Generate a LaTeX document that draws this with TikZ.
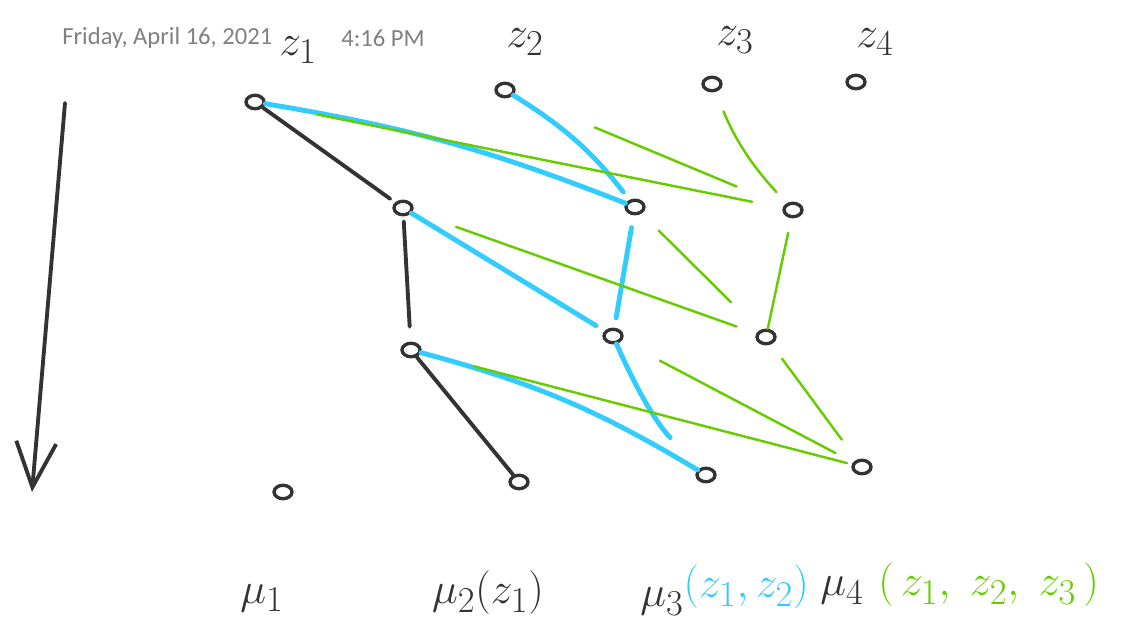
\documentclass[tikz,border=0pt]{standalone}
\usepackage{fontspec}
\newfontfamily\stampfont{Carlito}
\usetikzlibrary{shapes.geometric, arrows.meta}
\definecolor{inkblack}{HTML}{333333}
\definecolor{inkblue}{HTML}{33CCFF}
\definecolor{inkgreen}{HTML}{66CC00}
\definecolor{stampgray}{HTML}{808080}

\begin{document}
\begin{tikzpicture}[
    % one unit is one pixel of the sketch
    x=0.02cm, y=-0.02cm,
    dot/.style={ellipse, draw=inkblack, line width=1.9pt, minimum width=0.36cm, minimum height=0.27cm, inner sep=0pt},
    lbl/.style={text=inkblack, font=\fontsize{30}{34}\selectfont, inner sep=0pt},
    blk/.style={inkblack, line width=2.2pt, line cap=round},
    blu/.style={inkblue, line width=2.8pt, line cap=round},
    grn/.style={inkgreen, line width=1.4pt, line cap=round},
    stamp/.style={text=stampgray, font=\stampfont\fontsize{14}{17}\selectfont, anchor=west, inner sep=0pt}
]
    \useasboundingbox (0,0) rectangle (1126,624);

    % time stamp
    \node[stamp] (day) at (62,38) {Friday, April 16, 2021};
    \node[stamp] (time) at (341,38) {4:16 PM};

    % variables
    \node[lbl] (z1) at (298,50) {$z_1$};
    \node[lbl] (z2) at (525,42) {$z_2$};
    \node[lbl] (z3) at (735,40) {$z_3$};
    \node[lbl] (z4) at (875,42) {$z_4$};

    % rows of the sketch
    \node[dot] (a1) at (255,102) {};
    \node[dot] (a2) at (505,90) {};
    \node[dot] (a3) at (712,84) {};
    \node[dot] (a4) at (856,82) {};

    \node[dot] (b1) at (403,208) {};
    \node[dot] (b2) at (635,207) {};
    \node[dot] (b3) at (793,210) {};

    \node[dot] (c1) at (411,350) {};
    \node[dot] (c2) at (613,336) {};
    \node[dot] (c3) at (766,337) {};

    \node[dot] (d1) at (283,492) {};
    \node[dot] (d2) at (519,482) {};
    \node[dot] (d3) at (706,475) {};
    \node[dot] (d4) at (862,467) {};

    % means
    \node[lbl] (m1) at (262,598) {$\mu_1$};
    \node[lbl] (m2) at (488,593) {$\mu_2(z_1)$};
    \node[lbl, anchor=west] (m3) at (640,590) {$\mu_3$\raisebox{0.4ex}{\color{inkblue}$(z_1,z_2)$}};
    \node[lbl, anchor=west] (m4) at (820,585) {$\mu_4$\;{\color{inkgreen}$(\,z_1,\;z_2,\;z_3\,)$}};

    % time axis
    \coordinate (top) at (65,103);
    \coordinate (bottom) at (32,492);
    \draw[blk, -{Straight Barb[length=0.9cm, width=0.8cm]}] (top) -- (bottom);

    % black
    \draw[blk, shorten >=0.12cm] (a1) -- (b1);
    \draw[blk, shorten <=0.1cm, shorten >=0.3cm] (b1) -- (c1);
    \draw[blk] (c1) -- (d2);

    % blue
    \draw[blu] (a1) to[bend left=6] (b2);
    \draw[blu, shorten >=0.2cm] (a2) to[bend left=10] (b2);
    \draw[blu, shorten >=0.2cm] (b1) -- (c2);
    \draw[blu, shorten <=0.25cm, shorten >=0.2cm] (b2) -- (c2);
    \draw[blu] (c1) to[bend left=8] (d3);
    \draw[blu, shorten >=0.85cm] (c2) to[bend right=10] (d3);

    % green
    \draw[grn, shorten <=1.05cm, shorten >=0.62cm] (a1) -- (b3);
    \draw[grn, shorten <=1.74cm, shorten >=1.02cm] (a2) -- (b3);
    \draw[grn, shorten <=0.42cm, shorten >=0.3cm] (a3) to[bend right=10] (b3);
    \draw[grn, shorten <=0.3cm] (b3) -- (c3);
    \draw[grn, shorten <=0.92cm, shorten >=0.42cm] (b1) -- (c3);
    \draw[grn, shorten <=0.48cm, shorten >=0.8cm] (b2) -- (c3);
    \draw[grn, shorten <=1.08cm, shorten >=0.1cm] (c1) -- (d4);
    \draw[grn, shorten <=0.86cm, shorten >=0.4cm] (c2) -- (d4);
    \draw[grn, shorten <=0.36cm, shorten >=0.5cm] (c3) -- (d4);
\end{tikzpicture}
\end{document}
